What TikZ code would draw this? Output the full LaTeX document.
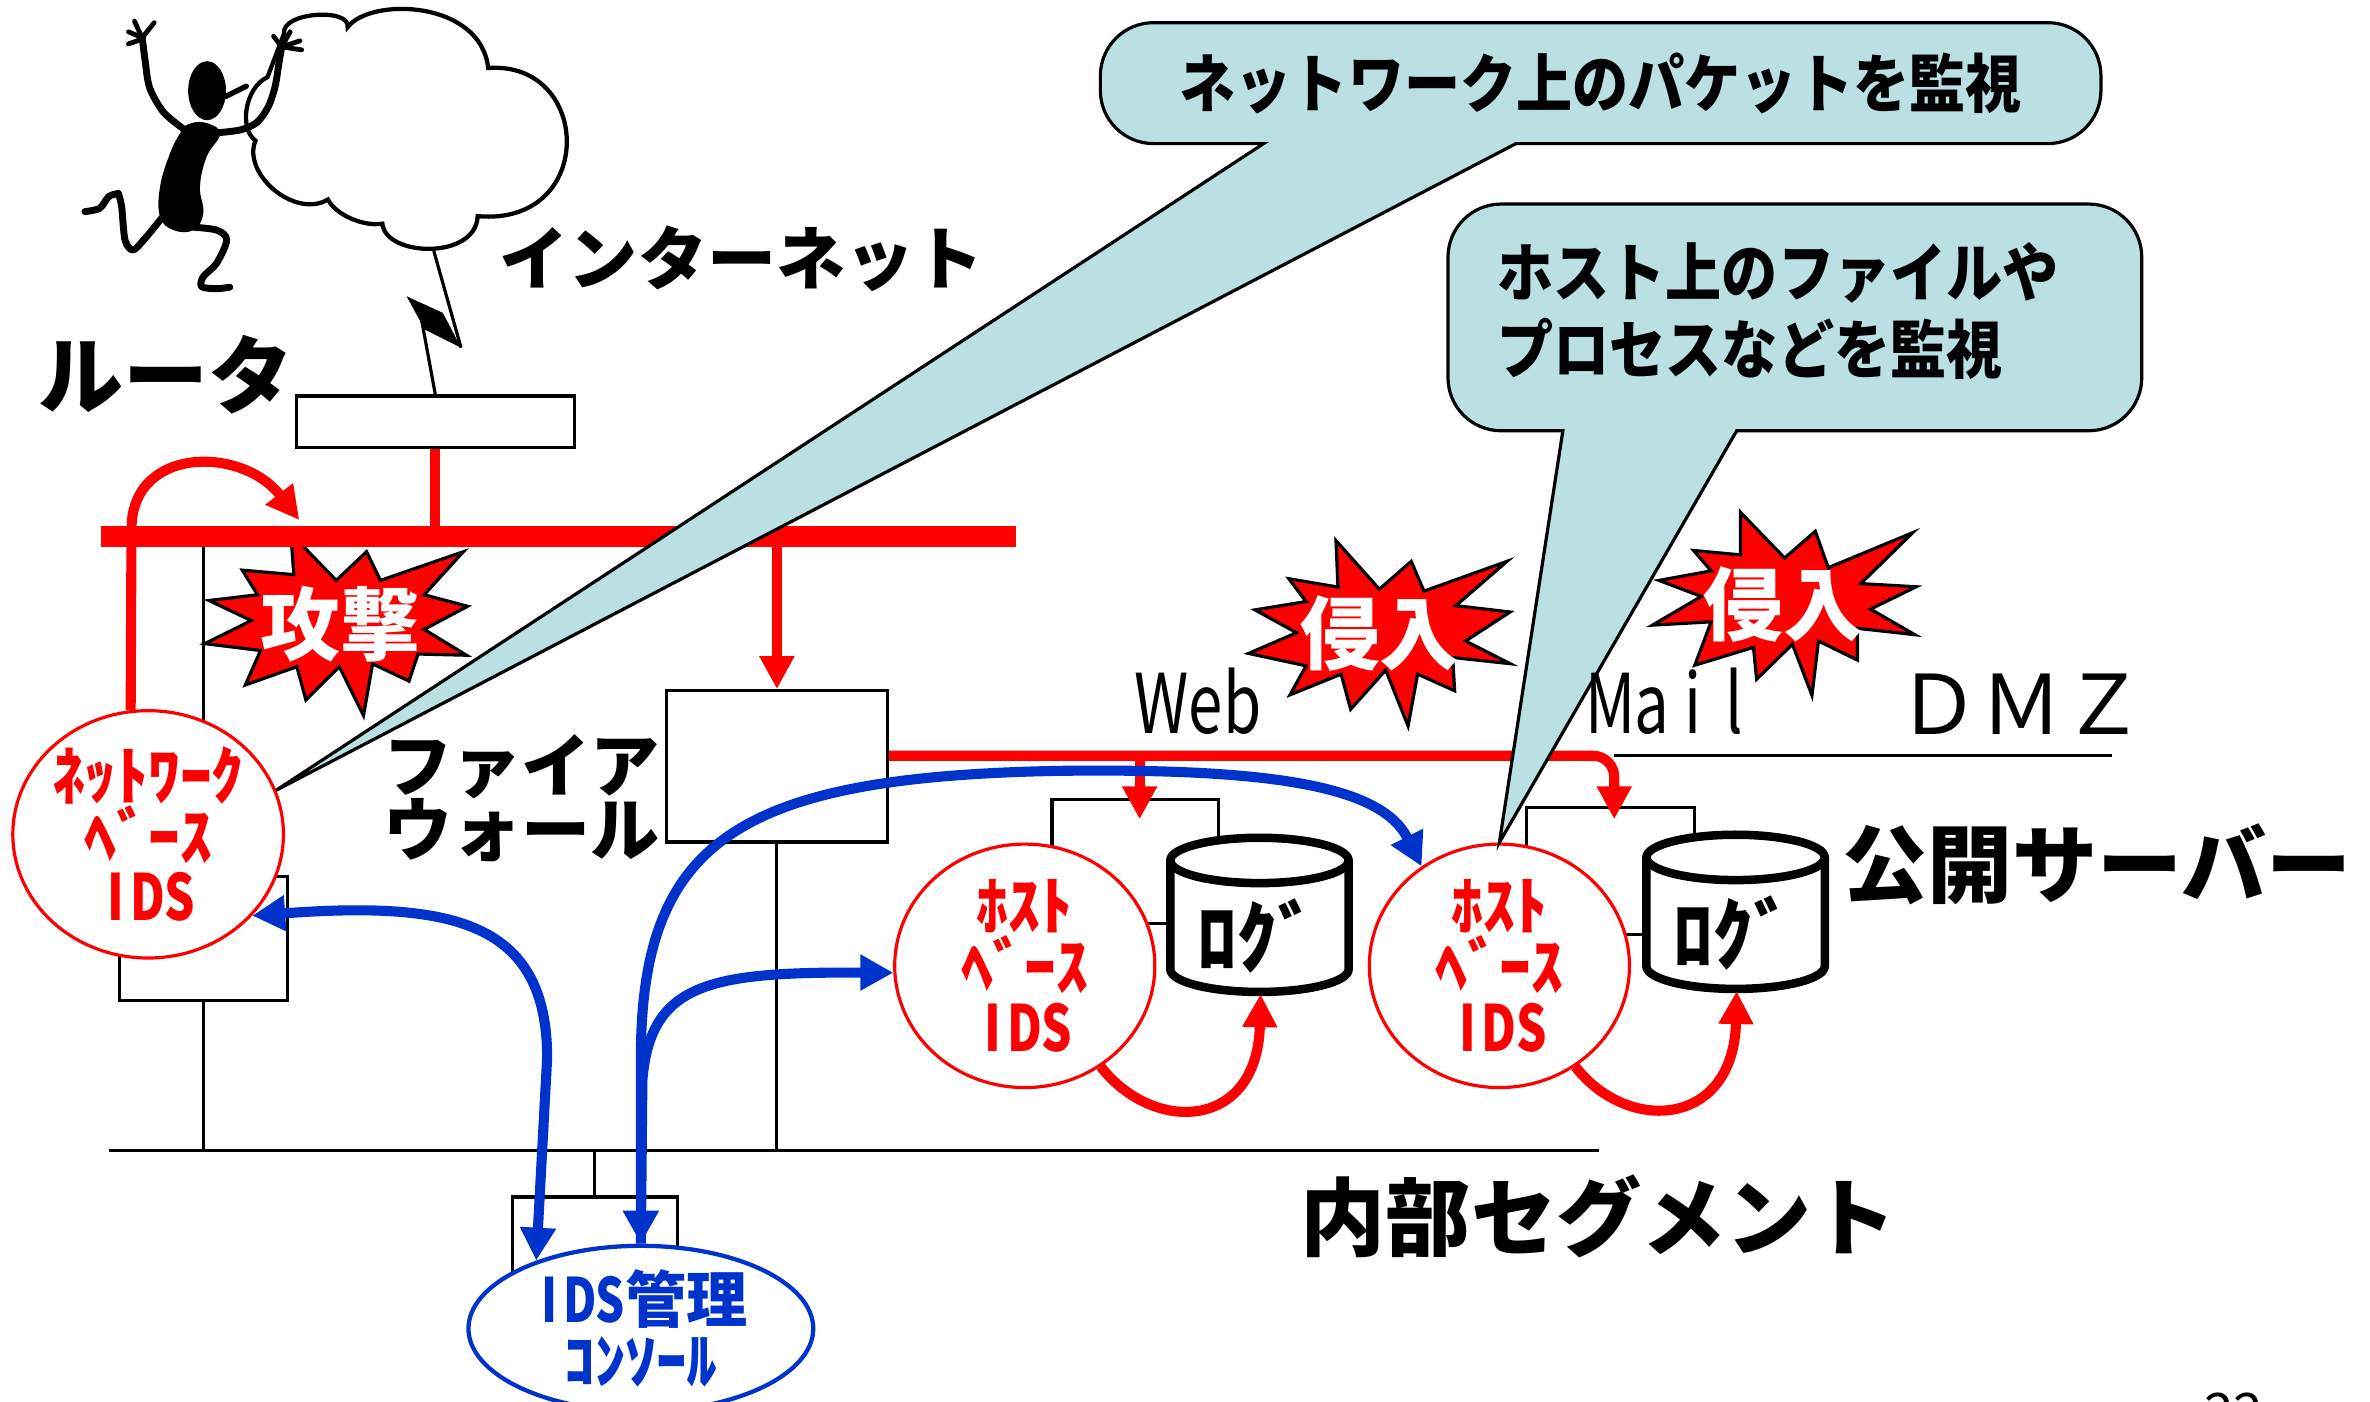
\documentclass[tikz,border=0pt]{standalone}
\usepackage{fontspec}
\setmainfont{Noto Sans CJK JP}
\newfontfamily\jpnarrow{Noto Sans CJK JP}[FakeStretch=0.88]
\newfontfamily\latnarrow{Noto Sans CJK JP}[FakeStretch=0.75]
\usepackage{tikz}
\usetikzlibrary{shapes.geometric,arrows.meta,calc}

\definecolor{idsred}{RGB}{255,0,0}
\definecolor{ctlblue}{RGB}{0,51,204}
\definecolor{balloon}{RGB}{187,224,227}

\newcommand\hw[1]{\makebox[0.5em]{#1}}

\begin{document}
\begin{tikzpicture}[x=0.01cm, y=-0.01cm,
  lan/.style={line width=0.6pt},
  hostbox/.style={draw, line width=0.6pt, inner sep=0pt},
  redlink/.style={draw=idsred, line width=1.9pt},
  redflow/.style={draw=idsred, line width=1.9pt, -{Triangle[length=6.2pt,width=6.2pt]}},
  blueflow/.style={draw=ctlblue, line width=1.9pt, -{Triangle[length=6.2pt,width=6.4pt]}},
  burst/.style={draw, line width=0.6pt, fill=idsred},
  bursttext/.style={text=white, inner sep=0pt, font=\bfseries\fontsize{15pt}{15pt}\selectfont},
  idscircle/.style={ellipse, draw=idsred, fill=white, line width=0.6pt, minimum width=1.72cm,
    minimum height=1.58cm, inner sep=0pt, text=idsred, align=center,
    font=\bfseries\fontsize{12pt}{11.4pt}\selectfont},
  logspot/.style={inner sep=0pt, minimum width=1.18cm, minimum height=1.02cm},
  logline/.style={line width=1.6pt, line join=round},
  logtext/.style={inner sep=0pt, font=\bfseries\fontsize{15pt}{15pt}\selectfont},
  callout/.style={draw, line width=0.6pt, fill=balloon},
  callouttext/.style={inner sep=0pt, align=left, font=\jpnarrow\bfseries\fontsize{12pt}{14.5pt}\selectfont},
  biglabel/.style={inner sep=0pt, font=\bfseries\fontsize{16pt}{16pt}\selectfont},
  midlabel/.style={inner sep=0pt, align=left, font=\bfseries\fontsize{13pt}{12.2pt}\selectfont},
  zonelabel/.style={inner sep=0pt, font=\fontsize{15.5pt}{15.5pt}\selectfont},
  figline/.style={line width=1.3pt, line cap=round, line join=round}]

\useasboundingbox (0,0) rectangle (1568,927);

% internet cloud and the attacker
\draw[line width=0.8pt, fill=white] (188,22) .. controls (186,8) and (232,5) .. (230,18)
  .. controls (245,-2) and (318,0) .. (323,45)
  .. controls (392,40) and (395,150) .. (316,143)
  .. controls (315,172) and (255,170) .. (253,148)
  .. controls (240,150) and (222,142) .. (217,132)
  .. controls (195,145) and (160,115) .. (169,93)
  .. controls (158,85) and (162,58) .. (177,51)
  -- cycle;
\coordinate (cloudfoot) at (287,166);

\fill (137,60) ellipse [x radius=12.5, y radius=19.5];
\draw[figline, line width=1pt] (149,64) -- (163,57);
\fill plot[smooth cycle, tension=0.7] coordinates {(123.5,82.7) (135,81) (145.6,88.2) (136.7,103.7)
  (132.3,123.5) (134.5,141.1) (127.9,152.2) (114.7,152.2) (105.9,143.3) (105.9,123.5) (112.5,101.4) (119.1,88.2)};
\draw[figline] plot[smooth] coordinates {(121,85) (108,74) (99,58) (96,40) (94,24)};
\draw[figline, line width=0.9pt] (94,25) -- (85,21) (94,26) -- (85,29) (94,25) -- (89,14) (94,25) -- (102,15);
\draw[figline] plot[smooth] coordinates {(142,88) (158.8,86) (170,81) (177.5,70.6) (182,57.3) (184.5,42) (186.4,31)};
\draw[figline, line width=0.9pt] (186.4,31) -- (181,24) (186.4,31) -- (192,21) (186.4,31) -- (198.5,27) (186.4,31) -- (199.6,33);
\draw[figline] plot[smooth] coordinates {(108,143) (96,157.7) (88,165.4) (82.7,158.8) (80.5,136.7) (78.3,128)};
\draw[figline] plot[smooth] coordinates {(78.3,128) (72,130) (66,137.8) (56.2,140)};
\draw[figline] plot[smooth] coordinates {(124,150) (143.3,152.2) (150,158.8) (143.3,174.2) (134.5,183) (133.4,189.7) (143.3,191) (152,190)};

% router and the link up to the cloud
\node[hostbox, minimum width=1.84cm, minimum height=0.34cm] (router) at (288,279) {};
\draw[line width=0.6pt] (cloudfoot) -- (305,230);
\fill (305,230) -- (293,207) -- (269,196) -- (281,218) -- cycle;
\draw[line width=0.6pt] (279,212) -- (router.north);

% internal segment
\coordinate (lanW) at (72,761);
\coordinate (lanE) at (1058,761);
\draw[lan] (lanW) -- (lanE);

\node[hostbox, minimum width=1.11cm, minimum height=0.82cm] (nidsbox) at (134.5,621) {};
\node[hostbox, minimum width=1.09cm, minimum height=0.76cm] (conbox) at (393.5,830) {};
\node[hostbox, fill=white, minimum width=1.46cm, minimum height=1.00cm] (fw) at (514,507) {};
\node[hostbox, minimum width=1.10cm, minimum height=0.82cm] (webframe) at (751,570) {};
\node[hostbox, minimum width=1.11cm, minimum height=0.84cm] (mailframe) at (1065.5,576) {};

\coordinate (busW) at (67,355);
\coordinate (busE) at (672,355);
\draw[lan] (nidsbox.north |- busW) -- (nidsbox.north);
\draw[lan] (nidsbox.south) -- (nidsbox.south |- lanW);
\draw[lan] (fw.south) -- (fw.south |- lanW);
\draw[lan] (conbox.north) -- (conbox.north |- lanW);

% attack burst
\draw[burst] (192.4,353) -- (222.5,384) -- (242.5,365) -- (251.7,384) -- (306.6,365) -- (280.6,393.5)
  -- (309.4,401.1) -- (280.6,416.4) -- (308.6,433.5) -- (276.6,432.7) -- (270.6,450.6) -- (246.5,439.2)
  -- (240.5,473.4) -- (224.5,441.1) -- (202.4,463.1) -- (196.4,441.1) -- (162.3,453.2) -- (172.4,430.4)
  -- (135.5,425.8) -- (166.3,410.6) -- (138.3,397.3) -- (170.4,393.5) -- (160.3,377.2) -- (194.4,380.2) -- cycle;
\node[bursttext] (attack) at (225,413) {攻撃};

% outer segment
\draw[draw=idsred, line width=4pt] (busW) -- (busE);
\draw[redlink] (router.south) -- (router.south |- busW);
\draw[redflow] (fw.north |- busE) -- (fw.north);

\node[idscircle] (nids) at (98,552) {ﾈｯﾄﾜｰｸ\\ﾍﾞｰｽ\\{\latnarrow\hw{I}\hw{D}\hw{S}}};
\coordinate (atkhit) at (198,344);
\draw[redflow] (nids.98) -- (87,350) .. controls (87,295) and (160,295) .. (atkhit);

\draw[callout] (1003,95) [rounded corners=10pt] -- (1390,95) -- (1390,15) -- (728,15) -- (728,95)
  [sharp corners] -- (836,95) -- (nids.19) -- cycle;
\node[callouttext] (pkt) at (1059,55) {ネットワーク上のパケットを監視};

% DMZ
\coordinate (dmzturn) at (1068,500);
\coordinate (dmzend) at (1397,500);
\coordinate (webhit) at (754,542);
\coordinate (mailhit) at (1068,542);
\draw[lan] (dmzturn) -- (dmzend);
\draw[redflow, rounded corners=4pt] (fw.east |- dmzturn) -- (dmzturn) -- (mailhit);
\draw[redflow] (webhit |- dmzturn) -- (webhit);

\node[idscircle] (hids1) at (678,639) {ﾎｽﾄ\\ﾍﾞｰｽ\\{\latnarrow\hw{I}\hw{D}\hw{S}}};
\node[idscircle] (hids2) at (992,639) {ﾎｽﾄ\\ﾍﾞｰｽ\\{\latnarrow\hw{I}\hw{D}\hw{S}}};

\draw[callout] (1149,285) [rounded corners=10pt] -- (1417,285) -- (1417,135) -- (958,135) -- (958,285)
  [sharp corners] -- (1034,285) -- (hids2.north) -- cycle;
\node[callouttext, anchor=west] (hostmon) at (990,206) {ホスト上のファイルや\\プロセスなどを監視};

\draw[burst] (883.9,357.7) -- (912.6,389.8) -- (933.7,371.4) -- (942.1,391.1) -- (997.0,371.4) -- (963.2,400.7)
  -- (999.1,404.9) -- (969.6,424.1) -- (999.1,439.1) -- (961.1,435.0) -- (962.4,457.0) -- (937.9,446.0)
  -- (931.6,480.3) -- (916.8,443.3) -- (893.6,469.3) -- (887.3,446.0) -- (853.5,459.7) -- (864.1,440.5)
  -- (826.1,432.3) -- (857.8,418.6) -- (830.3,403.5) -- (864.1,398.0) -- (852.7,382.9) -- (885.2,388.4) -- cycle;
\node[bursttext] (intrweb) at (913,419) {侵入};
\draw[burst] (1151.5,338.9) -- (1180.7,369.2) -- (1201.0,351.5) -- (1209.6,375.6) -- (1265.5,352.4) -- (1231.1,386.1)
  -- (1267.7,388.2) -- (1237.5,403.0) -- (1266.8,419.9) -- (1228.9,415.7) -- (1228.9,436.7) -- (1203.1,424.1)
  -- (1198.8,460.0) -- (1185.9,426.2) -- (1162.2,449.4) -- (1160.1,428.3) -- (1121.3,440.1) -- (1132.1,411.4)
  -- (1093.3,413.6) -- (1125.6,394.6) -- (1097.6,384.0) -- (1132.1,377.7) -- (1120.5,364.2) -- (1151.5,367.1) -- cycle;
\node[bursttext] (intrmail) at (1180,400) {侵入};

\node[zonelabel, font=\latnarrow\fontsize{15.5pt}{15.5pt}\selectfont, anchor=west] (weblabel) at (750,464) {Web};
\node[zonelabel, font=\latnarrow\fontsize{15.5pt}{15.5pt}\selectfont, anchor=west] (maillabel) at (1051,464) {\hw{M}\hw{a}\hw{i}\hw{l}};
\node[zonelabel, anchor=west] (dmzlabel) at (1255,466) {ＤＭＺ};

% logs on the public servers
\node[logspot] (weblog) at (834,606) {};
\draw[logline, fill=white] (weblog.north west) ++(0,15) -- ++(0,72)
  arc[start angle=180, end angle=0, x radius=59, y radius=15] -- ++(0,-72)
  arc[start angle=0, end angle=-180, x radius=59, y radius=15] -- cycle;
\draw[logline] (weblog.north west) ++(0,15) arc[start angle=180, end angle=0, x radius=59, y radius=15];
\node[logtext] (weblogtext) at (832,619) {ﾛｸﾞ};

\node[logspot] (maillog) at (1149,604) {};
\draw[logline, fill=white] (maillog.north west) ++(0,15) -- ++(0,72)
  arc[start angle=180, end angle=0, x radius=59, y radius=15] -- ++(0,-72)
  arc[start angle=0, end angle=-180, x radius=59, y radius=15] -- cycle;
\draw[logline] (maillog.north west) ++(0,15) arc[start angle=180, end angle=0, x radius=59, y radius=15];
\node[logtext] (maillogtext) at (1147,617) {ﾛｸﾞ};

\draw[redflow] (hids1.-53) .. controls +(35,45) and +(-2,90) .. (weblog.south);
\draw[redflow] (hids2.-53) .. controls +(35,45) and +(-2,90) .. (maillog.south);

% management console
\node[ellipse, draw=ctlblue, fill=white, line width=0.8pt, minimum width=2.28cm, minimum height=0.96cm,
  inner sep=0pt, text=ctlblue, align=center, font=\bfseries\fontsize{11.5pt}{11.4pt}\selectfont]
  (console) at (424,879) {{\latnarrow\hw{I}\hw{D}\hw{S}}管理\\ｺﾝｿｰﾙ};

\draw[blueflow, {Triangle[length=6.2pt,width=6.4pt]}-{Triangle[length=6.2pt,width=6.4pt]}]
  (nids.-38) .. controls (300,596) and (362,610) .. (362,700) -- (console.147);
\draw[blueflow, {Triangle[length=6.2pt,width=6.4pt]}-{Triangle[length=6.2pt,width=6.4pt]}]
  (console.north) -- (424,700) .. controls (424,555) and (490,514) .. (700,510)
  .. controls (850,508) and (915,522) .. (hids2.128);
\draw[blueflow] (console.north) -- (425,715) .. controls (430,650) and (470,643) .. (hids1.183);

% labels
\node[biglabel, anchor=west] (rtlabel) at (25,248) {ルータ};
\node[midlabel, anchor=west] (netlabel) at (330,171) {インターネット};
\node[midlabel, anchor=east] (fwlabel) at (437,528) {ファイア\\ウォール};
\node[biglabel, anchor=west] (lanlabel) at (860,805) {内部セグメント};
\node[biglabel, anchor=west] (srvlabel) at (1218,572) {公開サーバー};
\node[inner sep=0pt, anchor=north, font=\fontsize{10pt}{10pt}\selectfont] (pgno) at (1478,921) {22};

\end{tikzpicture}
\end{document}
